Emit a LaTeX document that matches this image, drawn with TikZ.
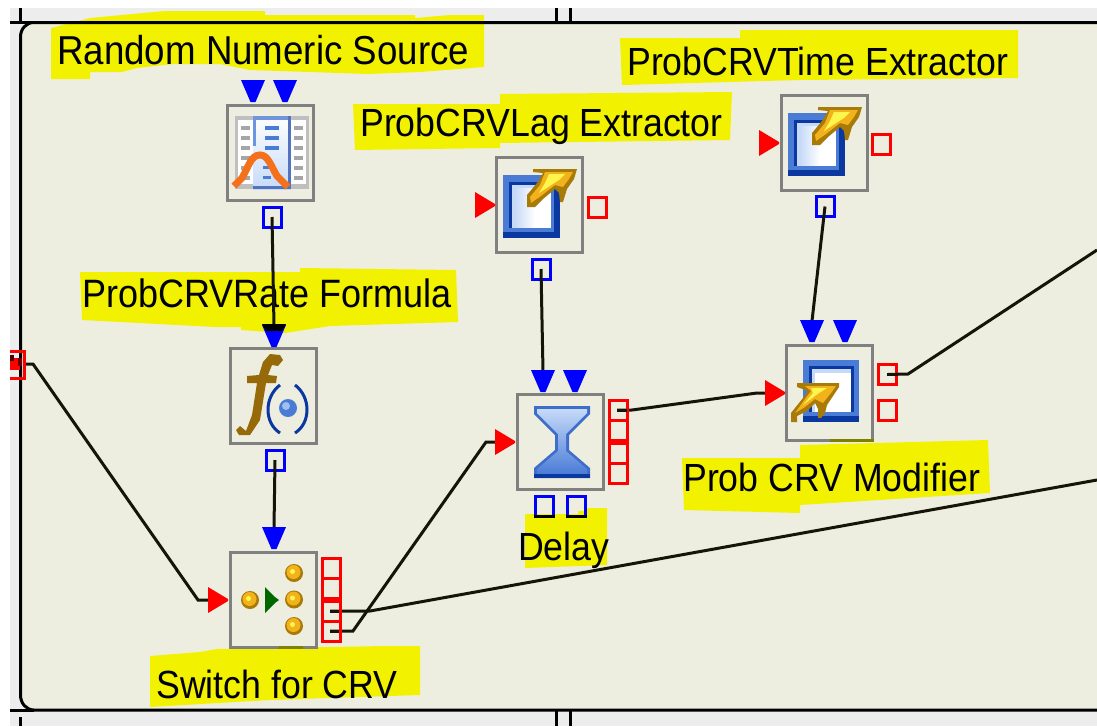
\documentclass[tikz,border=0pt]{standalone}
\usepackage{fontspec}
\setmainfont{Liberation Sans}
\usetikzlibrary{calc}
\definecolor{panel}{HTML}{EEEEE0}
\definecolor{outer}{HTML}{EDEDED}
\definecolor{hl}{HTML}{F2F200}
\definecolor{pblue}{HTML}{0000FF}
\definecolor{pred}{HTML}{FF0000}
\definecolor{boxg}{HTML}{808080}
\definecolor{wire}{HTML}{141408}
\definecolor{dkblue}{HTML}{0A37A0}
\definecolor{midblue}{HTML}{4A7CD6}
\definecolor{ltblue}{HTML}{C6DAF8}
\definecolor{gold}{HTML}{F2B21C}
\definecolor{dkgold}{HTML}{A87A08}
\definecolor{fgold}{HTML}{966A08}
\definecolor{orng}{HTML}{F4701A}
\definecolor{olive}{HTML}{808000}
\tikzset{x=1pt,y=-1pt,
 comp/.style={draw=boxg,line width=3pt,fill=none,minimum width=86pt,minimum height=95pt,inner sep=0,outer sep=0},
 bport/.style={draw=pblue,line width=3pt,minimum width=18pt,minimum height=20pt,inner sep=0,outer sep=0},
 rport/.style={draw=pred,line width=3pt,minimum width=18pt,minimum height=20pt,inner sep=0,outer sep=0},
 cell/.style={draw=pred,line width=3pt,minimum width=18pt,minimum height=20pt,inner sep=0,outer sep=0},
 wirel/.style={draw=wire,line width=3pt},
 lab/.style={inner sep=0,anchor=base west,text=black},
}
\newcommand{\lbl}[2]{\scalebox{1}[1.1]{\fontsize{#1}{#1}\selectfont #2}}
\newcommand{\btri}[2]{\fill[pblue] (#1-12,#2) -- (#1+12,#2) -- (#1+2.5,#2+22) -- (#1-2.5,#2+22) -- cycle;}
\newcommand{\rtri}[2]{\fill[pred] (#1,#2-13) -- (#1+20,#2-1) -- (#1+20,#2+1) -- (#1,#2+13) -- cycle;}
\newcommand{\squareicon}[2]{%
 \begin{scope}[shift={(#1,#2)}]
 \fill[midblue] (0,0) rectangle (57,63);
 \fill[dkblue] (51,0) rectangle (57,63);
 \fill[dkblue] (0,57) rectangle (57,63);
 \fill[dkblue] (6,7) rectangle (48,53);
 \fill[ltblue] (9,10) rectangle (48,53);
 \shade[left color=ltblue,right color=white] (12,13) rectangle (32,53);
 \fill[white] (32,13) rectangle (48,53);
 \fill[midblue] (48,7) rectangle (51,57);
 \fill[midblue] (6,53) rectangle (51,57);
 \end{scope}}
\newcommand{\goldarrow}[2]{%
 \begin{scope}[shift={(#1,#2)}]
 \fill[dkgold] (6,0) -- (50,0) -- (47,10) -- (40,20) -- (36,33) -- (33,33) -- (32,24) -- (28,20) -- (16,30) -- (8,38) -- (0,38) -- (0,26) -- (10,14) -- (16,4) -- (6,3) -- cycle;
 \fill[gold] (18,3) -- (46,3) -- (42,10) -- (36,18) -- (28,16) -- (14,27) -- (4,34) -- (3,28) -- (13,16) -- cycle;
 \fill[yellow!70!white] (22,5) -- (38,5) -- (32,11) -- (12,24) -- (18,14) -- cycle;
 \end{scope}}
\begin{document}
\begin{tikzpicture}
\useasboundingbox (0,0) rectangle (1097,726);
\fill[white] (0,0) rectangle (1097,726);
\fill[outer] (10,8) rectangle (1097,726);
\fill[panel] (1100,22) -- (34,22) .. controls (26,22) and (20,29) .. (20,37) -- (20,695) .. controls (20,703) and (26,710) .. (34,710) -- (1100,710) -- cycle;
% highlight patches
\fill[hl] (51,28) -- (90,18) -- (122,15) -- (165,11) -- (265,11) -- (265,15) -- (415,15) -- (415,18) -- (450,15) -- (484,15) -- (484,67) -- (420,72) -- (368,74) -- (250,70) -- (220,64) -- (173,64) -- (137,68) -- (122,72) -- (90,72) -- (90,79) -- (51,79) -- cycle;
\fill[hl] (620,38) -- (740,38) -- (740,30) -- (1018,30) -- (1018,78) -- (800,80) -- (622,85) -- cycle;
\fill[hl] (353,104) -- (500,104) -- (500,94) -- (732,92) -- (730,140) -- (500,143) -- (500,148) -- (355,150) -- cycle;
\fill[hl] (80,272) -- (300,272) -- (300,268) -- (456,270) -- (458,322) -- (330,326) -- (285,333) -- (241,330) -- (241,327) -- (215,327) -- (82,320) -- cycle;
\fill[hl] (682,458) -- (800,458) -- (800,445) -- (988,440) -- (990,493) -- (800,505) -- (800,513) -- (684,510) -- cycle;
\fill[hl] (525,514) -- (578,514) -- (578,511) -- (587,511) -- (587,508) -- (607,508) -- (607,565) -- (525,568) -- cycle;
\fill[hl] (150,656) -- (200,652) -- (217,649) -- (386,646) -- (420,646) -- (420,695) -- (270,700) -- (150,707) -- cycle;
% panel frame
\draw[black,line width=3pt] (1100,22.5) -- (34,22.5) .. controls (26,22.5) and (20.5,29) .. (20.5,37) -- (20.5,695) .. controls (20.5,703) and (26,710) .. (34,710) -- (1100,710);
\draw[black,line width=3pt] (20.5,8) -- (20.5,22.5) (20.5,717) -- (20.5,726);
\draw[black,line width=3pt] (10,22.5) -- (34,22.5) (10,710) -- (34,710);
\draw[black,line width=3pt] (556.5,8) -- (556.5,22) (570.5,8) -- (570.5,22);
\draw[black,line width=3pt] (556.5,710) -- (556.5,726) (570.5,710) -- (570.5,726);
% labels
\node[lab] (lrand) at (57,64) {\lbl{36.7}{Random Numeric Source}};
\node[lab] (lag) at (360,136) {\lbl{35.7}{ProbCRVLag Extractor}};
\node[lab] (ltime) at (627,75) {\lbl{35.7}{ProbCRVTime Extractor}};
\node[lab] (lrate) at (82,307) {\lbl{36}{ProbCRVRate Formula}};
\node[lab] (lmod) at (683,491) {\lbl{35.7}{Prob CRV Modifier}};
\node[lab] (ldelay) at (518,560) {\lbl{35.7}{Delay}};
\node[lab] (lsw) at (156,698) {\lbl{35.7}{Switch for CRV}};
% connectors
\node[bport] (randout) at (272,217) {};
\node[bport] (formout) at (275,460) {};
\node[bport] (ext1out) at (541,269) {};
\node[bport] (ext2out) at (825,206.5) {};
\node[rport] (modr1) at (887.5,374.5) {};
\coordinate (tform) at (274,326);
\coordinate (tsw) at (274,528);
\coordinate (tdelay) at (543,371);
\coordinate (tmod) at (812,321);
\coordinate (rsw) at (209,600);
\coordinate (rdelay) at (496,442);
\coordinate (rmod) at (766,393);
\coordinate (leftp) at (25,364);
\coordinate (ne) at (1097,250);
\coordinate (ee) at (1097,480);
\draw[wirel] (randout.center) -- (tform);
\draw[wirel] (formout.center) -- (tsw);
\draw[wirel] (ext1out.center) -- (tdelay);
\draw[wirel] (ext2out.center) -- (tmod);
\draw[wirel] (leftp) -- (33,364) -- (198,600) -- (rsw);
\draw[wirel] (330,631) -- (353,631) -- (486,442) -- (rdelay);
\draw[wirel] (330,611) -- (370,611) -- (ee);
\draw[wirel] (617,410) -- (632,410) -- (757,393) -- (rmod);
\draw[wirel] (modr1.center) -- (908,374) -- (ne);
% component boxes
\node[comp] (rand) at (270.5,152.5) {};
\node[comp] (form) at (273.5,396) {};
\node[comp] (sw) at (273.5,599.5) {};
\node[comp] (delay) at (560.5,442) {};
\node[comp] (ext1) at (539.5,204.5) {};
\node[comp] (ext2) at (824,142.5) {};
\node[comp] (mod) at (829.5,392.5) {};
\fill[olive] (279,645.5) rectangle (303,648.5);
\fill[olive] (830,438.5) rectangle (874,441.5);
% ports
\node[bport] (dout1) at (544,506.5) {};
\node[bport] (dout2) at (576,506.5) {};
\fill[black] (534,515) rectangle (555,518);
\fill[black] (566,515) rectangle (587,518);
\node[rport] (ext1r) at (597,207) {};
\node[rport] (ext2r) at (881.5,144.5) {};
\node[rport] (modr2) at (887.5,410.5) {};
\foreach \n/\yy in {a/568.5,b/588.5,c/611.5,d/631.5} \node[cell] (sw\n) at (331,\yy) {};
\foreach \n/\yy in {a/410.2,b/430.2,c/453.8,d/473.6} \node[cell] (del\n) at (618.7,\yy) {};
\draw[wire,line width=3pt] (330,611) -- (339,611) (330,631) -- (339,631) (617,410) -- (627,410) (887,374.5) -- (897,374.5);
% triangles
\btri{253}{80}\btri{285}{80}
\btri{274}{325}
\fill[black] (262,324) -- (286,324) -- (282,331) -- (266,331) -- cycle;
\btri{274}{527}
\btri{543}{370}\btri{575}{370}
\btri{812}{320}\btri{845}{320}
\rtri{208}{600}\rtri{495}{442}\rtri{475}{205}\rtri{759}{143}\rtri{765}{393}
% left cut-off port
\fill[pred] (10,358) rectangle (20,370);
\fill[black!70!red] (10,355) rectangle (14,361);
\fill[black!60!red] (18,358) rectangle (22,366);
\draw[pred,line width=3pt] (10,351.5) -- (24,351.5) -- (24,378) -- (10,378);
% icon: random
\begin{scope}[shift={(235,116)}]
 \fill[black!25] (0,0) rectangle (74,73);
 \fill[white] (3,4) rectangle (71,68);
 \shade[top color=white,bottom color=ltblue] (18,0) rectangle (56,73);
 \fill[midblue!80] (18,0) rectangle (56,4);
 \fill[midblue!80] (18,0) rectangle (21,30);
 \fill[dkblue!70] (53,0) rectangle (56,73);
 \fill[dkblue!70] (18,70) rectangle (56,73);
 \foreach \yy in {10,20,30,40,50,60}{\fill[black!35] (6,\yy) rectangle (15,\yy+4);\fill[black!35] (59,\yy) rectangle (68,\yy+4);}
 \foreach \yy in {10,20,30}{\fill[midblue] (30,\yy) rectangle (44,\yy+4);}
 \foreach \yy in {50,60}{\fill[midblue] (28,\yy) rectangle (36,\yy+3);}
 \draw[orng,line width=7pt] (-1,70) -- (7,62) .. controls (14,50) and (16,39) .. (25,39) .. controls (33,39) and (36,50) .. (42,60) -- (53,71);
\end{scope}
% icon: formula
\fill[fgold] (283,360) -- (280,355) -- (270,354) -- (263,362) -- (259,375) -- (247,376) -- (247,383) -- (257,383) -- (252,415) -- (246,431) -- (240,426) -- (236,430) -- (239,435) -- (250,435) -- (260,420) -- (266,383) -- (276,383) -- (277,376) -- (268,375) -- (272,365) -- (278,366) -- cycle;
\draw[dkblue,line width=3pt] (280,385) .. controls (264,397) and (264,423) .. (280,433);
\draw[dkblue,line width=3pt] (295,385) .. controls (311,397) and (311,423) .. (295,433);
\fill[midblue] (288,408) circle (9);
\fill[ltblue!70!midblue] (286,406) circle (4);
% icon: switch
\foreach \p in {(250,600),(294,573),(294,599.5),(294,626)}{
 \fill[dkgold] \p circle (9);
 \fill[gold] \p ++(-0.5,-1) circle (7);
 \fill[yellow!70!white] \p ++(-1.5,-1.5) circle (2.5);}
\fill[green!40!black] (265,587) -- (275,597) -- (279,600) -- (275,603) -- (265,613) -- cycle;
% icon: hourglass
\begin{scope}[shift={(534,406)}]
 \fill[midblue!80!dkblue] (0,0) -- (56,0) -- (56,8) -- (35,29) -- (35,44) -- (56,62) -- (56,72) -- (0,72) -- (0,62) -- (21,44) -- (21,29) -- (0,8) -- cycle;
 \shade[top color=ltblue,bottom color=midblue] (3,3) -- (53,3) -- (53,7) -- (32,28) -- (32,45) -- (53,63) -- (53,68) -- (3,68) -- (3,63) -- (24,45) -- (24,28) -- (3,7) -- cycle;
 \fill[dkblue] (0,68) rectangle (56,72);
\end{scope}
% icon: extractors
\squareicon{788}{113}
\goldarrow{812}{107}
\squareicon{503}{175}
\goldarrow{527}{169}
% icon: modifier
\begin{scope}[shift={(803,360)}]
 \fill[midblue] (0,0) rectangle (56,62);
 \fill[dkblue] (0,56) rectangle (56,62);
 \fill[dkblue] (6,6) rectangle (51,52);
 \fill[ltblue] (9,9) rectangle (48,52);
 \fill[white] (12,13) rectangle (48,52);
 \fill[midblue] (6,52) rectangle (51,56);
\end{scope}
\begin{scope}[shift={(791,383)}]
 \fill[dkgold] (6,0) -- (48,0) -- (48,4) -- (44,10) -- (36,22) -- (34,30) -- (30,35) -- (27,35) -- (27,26) -- (24,20) -- (16,28) -- (6,33) -- (6,39) -- (0,39) -- (0,30) -- (4,25) -- (12,15) -- (17,8) -- (6,4) -- cycle;
 \fill[gold] (14,3) -- (45,3) -- (40,10) -- (32,20) -- (24,16) -- (14,24) -- (4,30) -- (14,16) -- (20,8) -- cycle;
 \fill[yellow!70!white] (20,5) -- (36,5) -- (28,10) -- (12,22) -- (22,10) -- cycle;
\end{scope}
\end{tikzpicture}
\end{document}
